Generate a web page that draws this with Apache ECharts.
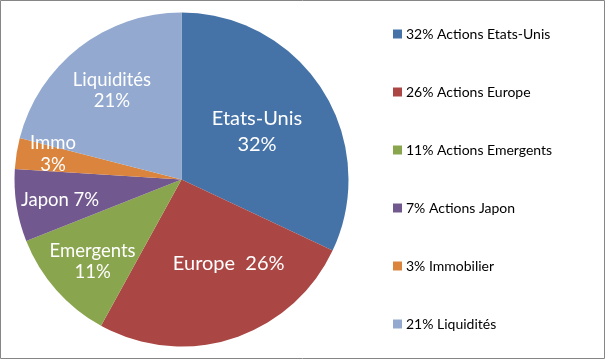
<!DOCTYPE html>
<html><head><meta charset="utf-8">
<script src="https://cdn.jsdelivr.net/npm/echarts@6/dist/echarts.min.js"></script>
<style>html,body{margin:0;padding:0;background:#fff}#c{width:605px;height:359px}</style>
</head><body><div id="c"></div>
<script>
const legendNames = ['32% Actions Etats-Unis','26% Actions Europe','11% Actions Emergents','7% Actions Japon','3% Immobilier','21% Liquidités'];
const sliceNames = ['Etats-Unis','Europe','Emergents','Japon','Immo','Liquidités'];
const values = [32, 26, 11, 7, 3, 21];

const colors = ['#4572A7','#AA4643','#89A54E','#71588F','#DB843D','#93A9CF'];
const labelSep = ['\n','  ','\n',' ','\n','\n'];
const labelFont = [20,20,18.5,18.5,18.5,18.5];
const labelLH = [26,26,21,21,22,21];
const labelShift = [[2.5,-1.5],[20.5,2],[-24,24.5],[-36,6.5],[-43,-11.5],[-16.5,-21]];

const chart = echarts.init(document.getElementById('c'), null, {renderer:'canvas'});
chart.setOption({
  animation:false,
  color: colors,
  graphic:[{type:'rect',shape:{x:0.5,y:0.5,width:604,height:358},style:{fill:'none',stroke:'#868686',lineWidth:1},z:100}],
  legend:{
    orient:'vertical', left:393, top:26, padding:0, icon:'rect', itemWidth:9, itemHeight:9, itemGap:42,
    textStyle:{fontFamily:'Lato', fontSize:14, color:'#000', lineHeight:16, padding:[0,0,0,-1]},
    data: legendNames
  },
  series:[{
    type:'pie', center:[181.5,179.5], radius:167, startAngle:90, clockwise:true,
    avoidLabelOverlap:false,
    label:{show:true, position:'inside', color:'#fff', fontFamily:'Lato',
      formatter:p=>sliceNames[p.dataIndex]+labelSep[p.dataIndex]+values[p.dataIndex]+'%'},
    labelLine:{show:false},
    labelLayout:p=>({dx:labelShift[p.dataIndex][0], dy:labelShift[p.dataIndex][1]}),
    itemStyle:{borderWidth:0},
    emphasis:{disabled:true},
    data: values.map((v,i)=>({value:v, name:legendNames[i], label:{fontSize:labelFont[i], lineHeight:labelLH[i]}}))
  }]
});
</script></body></html>
